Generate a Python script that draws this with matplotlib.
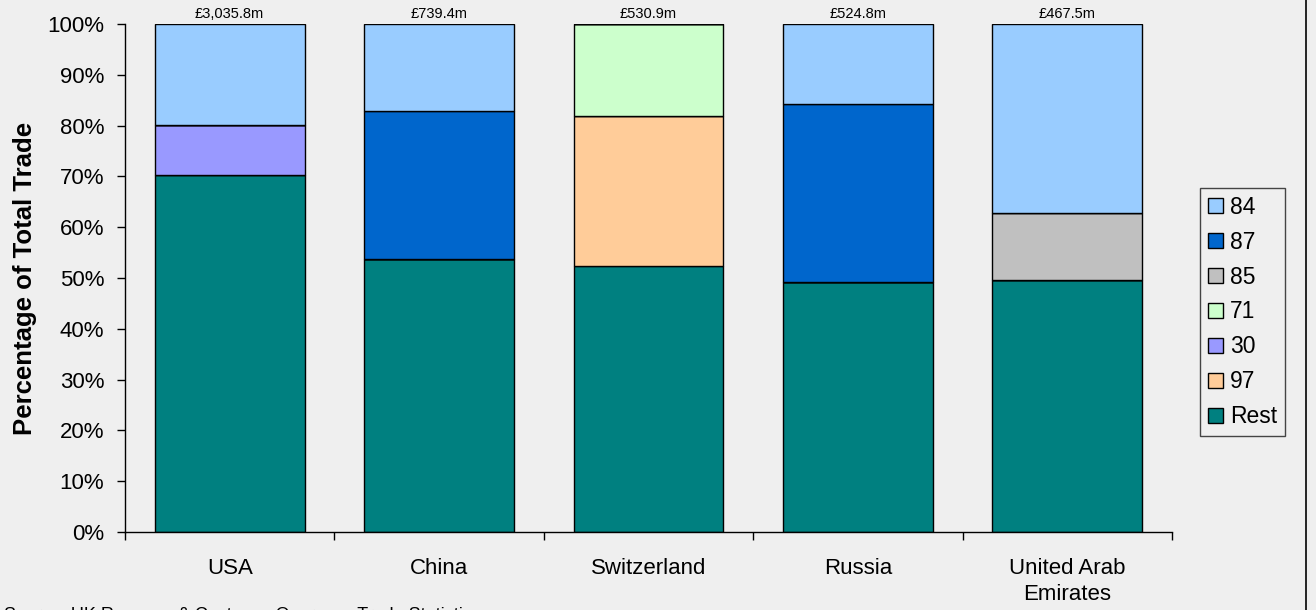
import matplotlib.pyplot as plt
from matplotlib.lines import Line2D

plt.rcParams['font.family'] = ['Liberation Sans', 'DejaVu Sans']

countries = ['USA', 'China', 'Switzerland', 'Russia', 'United Arab\nEmirates']
totals = ['£3,035.8m', '£739.4m', '£530.9m', '£524.8m', '£467.5m']

# share of each commodity chapter in total trade (%), bottom to top
rest = [70.3, 53.7, 52.3, 49.2, 49.6]
ch97 = [0, 0, 29.6, 0, 0]
ch30 = [9.8, 0, 0, 0, 0]
ch71 = [0, 0, 18.1, 0, 0]
ch85 = [0, 0, 0, 0, 13.2]
ch87 = [0, 29.2, 0, 35.1, 0]
ch84 = [19.9, 17.1, 0, 15.7, 37.2]

series = [('Rest', rest, '#008080'),
          ('97', ch97, '#FFCC99'),
          ('30', ch30, '#9999FF'),
          ('71', ch71, '#CCFFCC'),
          ('85', ch85, '#C0C0C0'),
          ('87', ch87, '#0066CC'),
          ('84', ch84, '#99CCFF')]

bg = '#EFEFEF'
fig = plt.figure(figsize=(13.16, 6.10), dpi=100, facecolor=bg)
ax = fig.add_axes([125 / 1316, 78 / 610, 1047 / 1316, 508 / 610], facecolor=bg)

x = range(len(countries))
bottom = [0] * len(countries)
handles = {}
for name, vals, col in series:
    b = ax.bar(x, vals, 0.715, bottom=bottom, color=col, edgecolor='black',
               linewidth=1, label=name)
    handles[name] = b
    bottom = [bb + v for bb, v in zip(bottom, vals)]

for i, t in enumerate(totals):
    ax.annotate(t, (i, 100), xytext=(0, 2), textcoords='offset points',
                ha='center', va='bottom', fontsize=10.5)

ax.set_xlim(-0.5, 4.5)
ax.set_ylim(0, 100)
ax.set_yticks(range(0, 101, 10))
ax.set_yticklabels([f'{v}%' for v in range(0, 101, 10)], fontsize=16)
ax.set_xticks(list(x))
ax.set_xticklabels(countries, fontsize=16, linespacing=1.3)
ax.tick_params(axis='x', length=0, pad=19)
ax.set_xticks([i - 0.5 for i in range(6)], minor=True)
ax.tick_params(axis='x', which='minor', length=6, direction='out', width=1)
ax.tick_params(axis='y', length=6, direction='out', width=1, pad=9)
for s in ['top', 'right']:
    ax.spines[s].set_visible(False)
ax.spines['left'].set_linewidth(1)
ax.spines['bottom'].set_linewidth(1)
ax.set_ylabel('Percentage of Total Trade', fontsize=18.5, fontweight='bold',
              labelpad=7)

order = ['84', '87', '85', '71', '30', '97', 'Rest']
leg = fig.legend([handles[n] for n in order], order, loc='center left',
                 bbox_to_anchor=(1200 / 1316, 298 / 610), fontsize=16.5,
                 frameon=True, fancybox=False, edgecolor='#444444',
                 facecolor=bg, framealpha=1, handlelength=0.65,
                 handleheight=0.65, handletextpad=0.3, labelspacing=0.52,
                 borderpad=0.35, borderaxespad=0)
leg.get_frame().set_linewidth(1)

fig.add_artist(Line2D([1306 / 1316] * 2, [0, 1], color='black', linewidth=1.2))
fig.text(4 / 1316, 1 - 607 / 610, 'Source: UK Revenue & Customs, Overseas Trade Statistics',
         fontsize=13, va='top', ha='left')

fig.savefig('out.png', dpi=100, facecolor=bg)
